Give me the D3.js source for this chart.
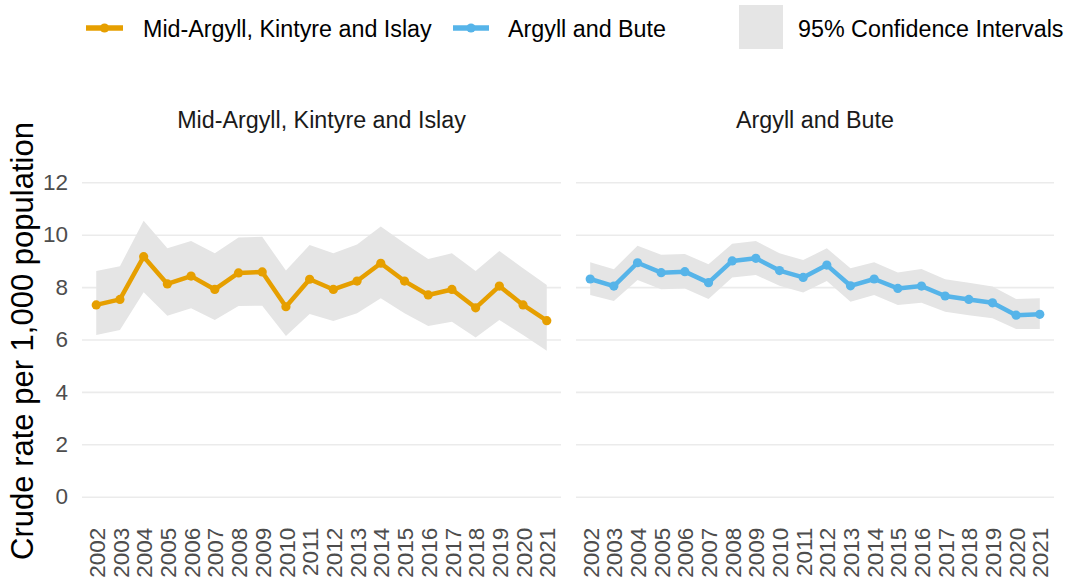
<!DOCTYPE html>
<html>
<head>
<meta charset="utf-8">
<script src="https://cdn.jsdelivr.net/npm/d3@7"></script>
<style>
  html, body { margin: 0; padding: 0; background: #fff; }
  svg { display: block; font-family: "Liberation Sans", Arial, sans-serif; }
</style>
</head>
<body>
<svg id="chart" width="1071" height="583"></svg>
<script>
const years = ["2002","2003","2004","2005","2006","2007","2008","2009","2010","2011","2012","2013","2014","2015","2016","2017","2018","2019","2020","2021"];
const yTicks = [0, 2, 4, 6, 8, 10, 12];
const areaNames = ["Mid-Argyll, Kintyre and Islay", "Argyll and Bute"];
const midRate  = [7.32, 7.53, 9.16, 8.12, 8.42, 7.91, 8.54, 8.58, 7.25, 8.30, 7.91, 8.23, 8.91, 8.23, 7.70, 7.91, 7.21, 8.04, 7.32, 6.72];
const midUpper = [8.61, 8.80, 10.53, 9.48, 9.76, 9.29, 9.89, 9.92, 8.63, 9.61, 9.29, 9.63, 10.31, 9.67, 9.07, 9.29, 8.61, 9.38, 8.72, 8.08];
const midLower = [6.17, 6.36, 7.80, 6.91, 7.19, 6.74, 7.28, 7.29, 6.13, 6.97, 6.71, 7.00, 7.57, 7.00, 6.52, 6.68, 6.08, 6.74, 6.17, 5.57];
const abRate   = [8.31, 8.04, 8.93, 8.55, 8.59, 8.17, 9.00, 9.10, 8.63, 8.37, 8.84, 8.05, 8.31, 7.95, 8.04, 7.66, 7.53, 7.40, 6.93, 6.96];
const abUpper  = [8.95, 8.68, 9.58, 9.23, 9.26, 8.87, 9.65, 9.76, 9.29, 9.03, 9.48, 8.72, 8.95, 8.56, 8.69, 8.30, 8.17, 8.02, 7.55, 7.57];
const abLower  = [7.70, 7.47, 8.27, 7.92, 7.95, 7.55, 8.37, 8.46, 8.05, 7.79, 8.23, 7.44, 7.70, 7.32, 7.40, 7.06, 6.93, 6.81, 6.40, 6.40];
const colors = ["#E69F00", "#56B4E9"];
const ciLabel = "95% Confidence Intervals";
const yTitle = "Crude rate per 1,000 population";

const svg = d3.select("#chart");
const FS = 22.5;
const FL = 23.3;

const y = d3.scaleLinear().domain([0, 12]).range([496.7, 182.3]);

const panels = [
  { name: areaNames[0], rate: midRate, up: midUpper, lo: midLower, color: colors[0], x0: 82, x1: 561 },
  { name: areaNames[1], rate: abRate, up: abUpper, lo: abLower, color: colors[1], x0: 576, x1: 1054 }
];

panels.forEach((p, pi) => {
  const x = d3.scalePoint().domain(years).range([p.x0, p.x1]).padding(0.6);
  const g = svg.append("g");

  // gridlines
  const yAxis = d3.axisLeft(y).tickValues(yTicks).tickSize(-(p.x1 - p.x0)).tickFormat(pi === 0 ? d3.format("d") : "");
  const ga = g.append("g").attr("transform", `translate(${p.x0},0)`).call(yAxis);
  ga.select(".domain").remove();
  ga.selectAll(".tick line").attr("stroke", "#EBEBEB").attr("stroke-width", 1.6);
  ga.selectAll(".tick text").attr("x", -14).attr("fill", "#4D4D4D").attr("font-size", FS).attr("font-family", "Liberation Sans, Arial, sans-serif");

  // x axis labels
  const xAxis = d3.axisBottom(x).tickSize(0);
  const gx = g.append("g").attr("transform", `translate(0,${y(0)})`).call(xAxis);
  gx.select(".domain").remove();
  gx.selectAll(".tick text")
    .attr("transform", "rotate(-90)")
    .attr("x", -31).attr("y", 0).attr("dy", "0.36em")
    .attr("text-anchor", "end")
    .attr("fill", "#4D4D4D").attr("font-size", FS).attr("font-family", "Liberation Sans, Arial, sans-serif");

  // CI ribbon
  const data = years.map((yr, i) => ({ yr, v: p.rate[i], up: p.up[i], lo: p.lo[i] }));
  g.append("path").datum(data)
    .attr("d", d3.area().x(d => x(d.yr)).y0(d => y(d.lo)).y1(d => y(d.up)))
    .attr("fill", "#E5E5E5");

  g.append("path").datum(data)
    .attr("d", d3.line().x(d => x(d.yr)).y(d => y(d.v)))
    .attr("fill", "none").attr("stroke", p.color).attr("stroke-width", 4.5).attr("stroke-linejoin", "round");

  g.selectAll("circle.pt").data(data).enter().append("circle")
    .attr("cx", d => x(d.yr)).attr("cy", d => y(d.v)).attr("r", 4.6).attr("fill", p.color);

  // strip title
  g.append("text").attr("x", (p.x0 + p.x1) / 2).attr("y", 128)
    .attr("text-anchor", "middle").attr("font-size", FL).attr("fill", "#1A1A1A")
    .text(p.name);
});

// y title
svg.append("text").attr("transform", "translate(33,341) rotate(-90)")
  .attr("text-anchor", "middle").attr("font-size", 31).attr("fill", "#000")
  .text(yTitle);

// legend
const leg = svg.append("g");
const keys = [
  { label: areaNames[0], color: colors[0], lx0: 86, lx1: 123, tx: 143 },
  { label: areaNames[1], color: colors[1], lx0: 453, lx1: 489, tx: 508 }
];
keys.forEach(k => {
  leg.append("line").attr("x1", k.lx0).attr("x2", k.lx1).attr("y1", 28).attr("y2", 28)
    .attr("stroke", k.color).attr("stroke-width", 5.5);
  leg.append("circle").attr("cx", (k.lx0 + k.lx1) / 2).attr("cy", 28).attr("r", 4.6).attr("fill", k.color);
  leg.append("text").attr("x", k.tx).attr("y", 36.5).attr("font-size", FL).attr("fill", "#000").text(k.label);
});
leg.append("rect").attr("x", 739).attr("y", 5).attr("width", 44).attr("height", 44).attr("fill", "#E5E5E5");
leg.append("text").attr("x", 798).attr("y", 36.5).attr("font-size", FL).attr("fill", "#000").text(ciLabel);
</script>
</body>
</html>
